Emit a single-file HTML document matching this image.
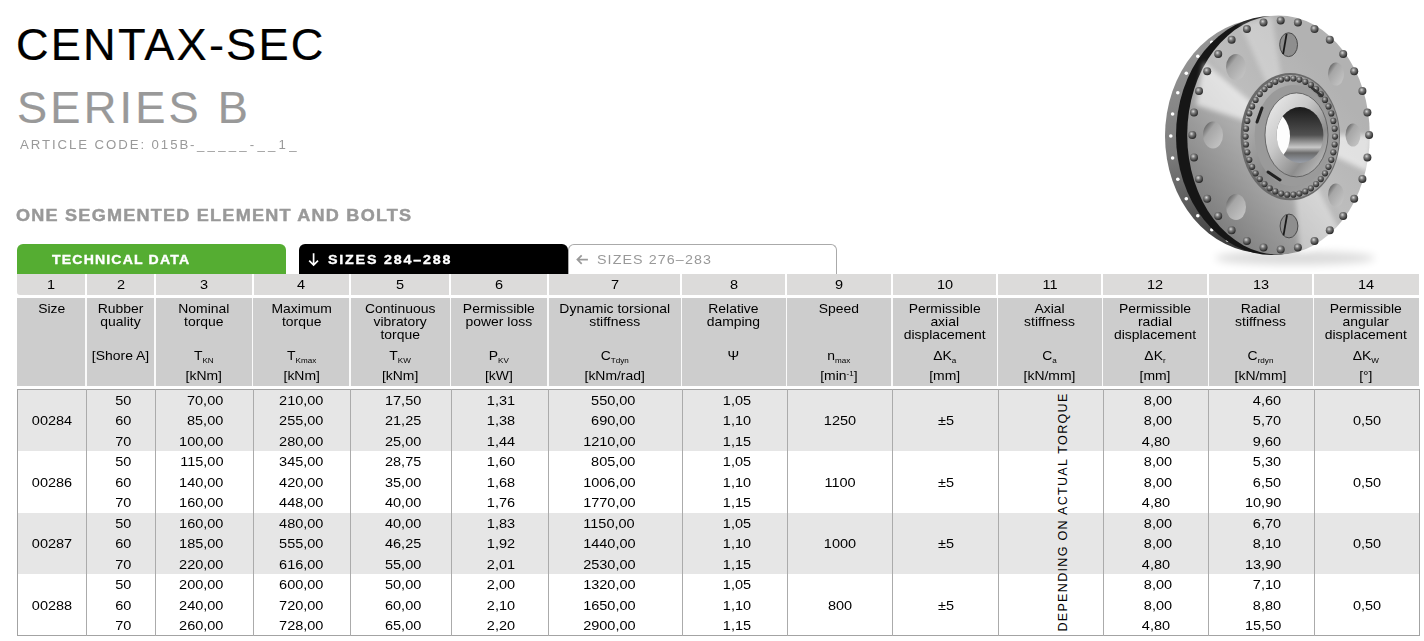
<!DOCTYPE html><html><head><meta charset="utf-8"><style>
*{margin:0;padding:0;box-sizing:border-box}
html,body{width:1424px;height:641px;overflow:hidden;background:#fff;font-family:"Liberation Sans", sans-serif;color:#000}
.abs{position:absolute;white-space:nowrap}
.t{position:absolute;white-space:nowrap;line-height:1}
.num{font-size:12.9px;letter-spacing:0;transform:scaleX(1.125);transform-origin:50% 50%}
.num.r{transform-origin:100% 50%}
.hd{font-size:12.9px;letter-spacing:0;text-align:center;line-height:12.75px;transform:scaleX(1.08);transform-origin:50% 50%}
sub{font-size:7.5px;vertical-align:baseline;position:relative;top:3px;letter-spacing:0}
</style></head><body>
<div class="t" style="left:16px;top:22px;font-size:45.2px;letter-spacing:2.16px;-webkit-text-stroke:0.2px #000">CENTAX-SEC</div>
<div class="t" style="left:17px;top:85.1px;font-size:45.2px;letter-spacing:3.2px;color:#999;-webkit-text-stroke:0.2px #999">SERIES B</div>
<div class="t" style="left:19.5px;top:139px;font-size:12px;letter-spacing:1.75px;color:#999;transform:scaleX(1.1);transform-origin:0 0">ARTICLE CODE: 015B-</div>
<div class="t" style="left:197px;top:139px;font-size:12px;letter-spacing:2.93px;color:#999;transform:scaleX(1.1);transform-origin:0 0">_____-__1_</div>
<div class="t" style="left:15.9px;top:207px;font-size:16.5px;font-weight:bold;letter-spacing:1.11px;color:#999;-webkit-text-stroke:0.45px #999;transform:scaleX(1.096);transform-origin:0 0">ONE SEGMENTED ELEMENT AND BOLTS</div>
<div class="abs" style="left:17px;top:244px;width:268.5px;height:30px;background:#55ad32;border-radius:6px 6px 0 0"></div>
<div class="t" style="left:51.5px;top:254px;font-size:12.7px;font-weight:bold;letter-spacing:1.05px;color:#fff;-webkit-text-stroke:0.35px #fff;transform:scaleX(1.109);transform-origin:0 0">TECHNICAL DATA</div>
<div class="abs" style="left:299px;top:244px;width:268.5px;height:30px;background:#000;border-radius:6px 6px 0 0"></div>
<svg class="abs" style="left:300px;top:246px" width="30" height="26"><path d="M13.6 7.3V18.8M9.2 14.6L13.6 19L18 14.6" stroke="#fff" stroke-width="1.7" fill="none"/></svg><div class="t" style="left:328px;top:253px;font-size:13px;font-weight:bold;letter-spacing:1.63px;color:#fff;-webkit-text-stroke:0.35px #fff;transform:scaleX(1.1);transform-origin:0 0">SIZES 284&#8211;288</div>
<div class="abs" style="left:567.5px;top:244px;width:269px;height:31px;border:1px solid #aaa;border-bottom:none;border-radius:6px 6px 0 0;background:#fff"></div>
<svg class="abs" style="left:570px;top:246px" width="30" height="26"><path d="M17.9 13.6H7.2M11.7 9.3L7.4 13.6L11.7 17.9" stroke="#999" stroke-width="1.7" fill="none"/></svg><div class="t" style="left:597px;top:253px;font-size:13px;letter-spacing:0.98px;color:#999;transform:scaleX(1.1);transform-origin:0 0">SIZES 276&#8211;283</div>
<div class="abs" style="left:16.5px;top:273.8px;width:1402.5px;height:20.9px;background:#dcdbda;border-radius:0 0 0 3px"></div>
<div class="abs" style="left:16.5px;top:298.3px;width:1402.5px;height:87.7px;background:#cdcdcd"></div>
<div class="abs" style="left:85px;top:273.8px;width:2px;height:20.9px;background:#fff"></div>
<div class="abs" style="left:85.4px;top:298.3px;width:1.2px;height:87.7px;background:#fafafa"></div>
<div class="abs" style="left:154px;top:273.8px;width:2px;height:20.9px;background:#fff"></div>
<div class="abs" style="left:154.4px;top:298.3px;width:1.2px;height:87.7px;background:#fafafa"></div>
<div class="abs" style="left:251.6px;top:273.8px;width:2px;height:20.9px;background:#fff"></div>
<div class="abs" style="left:252.0px;top:298.3px;width:1.2px;height:87.7px;background:#fafafa"></div>
<div class="abs" style="left:349px;top:273.8px;width:2px;height:20.9px;background:#fff"></div>
<div class="abs" style="left:349.4px;top:298.3px;width:1.2px;height:87.7px;background:#fafafa"></div>
<div class="abs" style="left:449.3px;top:273.8px;width:2px;height:20.9px;background:#fff"></div>
<div class="abs" style="left:449.7px;top:298.3px;width:1.2px;height:87.7px;background:#fafafa"></div>
<div class="abs" style="left:547px;top:273.8px;width:2px;height:20.9px;background:#fff"></div>
<div class="abs" style="left:547.4px;top:298.3px;width:1.2px;height:87.7px;background:#fafafa"></div>
<div class="abs" style="left:680.4px;top:273.8px;width:2px;height:20.9px;background:#fff"></div>
<div class="abs" style="left:680.8px;top:298.3px;width:1.2px;height:87.7px;background:#fafafa"></div>
<div class="abs" style="left:785.2px;top:273.8px;width:2px;height:20.9px;background:#fff"></div>
<div class="abs" style="left:785.6px;top:298.3px;width:1.2px;height:87.7px;background:#fafafa"></div>
<div class="abs" style="left:891px;top:273.8px;width:2px;height:20.9px;background:#fff"></div>
<div class="abs" style="left:891.4px;top:298.3px;width:1.2px;height:87.7px;background:#fafafa"></div>
<div class="abs" style="left:996.4px;top:273.8px;width:2px;height:20.9px;background:#fff"></div>
<div class="abs" style="left:996.8px;top:298.3px;width:1.2px;height:87.7px;background:#fafafa"></div>
<div class="abs" style="left:1101.4px;top:273.8px;width:2px;height:20.9px;background:#fff"></div>
<div class="abs" style="left:1101.8000000000002px;top:298.3px;width:1.2px;height:87.7px;background:#fafafa"></div>
<div class="abs" style="left:1207.4px;top:273.8px;width:2px;height:20.9px;background:#fff"></div>
<div class="abs" style="left:1207.8000000000002px;top:298.3px;width:1.2px;height:87.7px;background:#fafafa"></div>
<div class="abs" style="left:1312.4px;top:273.8px;width:2px;height:20.9px;background:#fff"></div>
<div class="abs" style="left:1312.8000000000002px;top:298.3px;width:1.2px;height:87.7px;background:#fafafa"></div>
<div class="t num" style="left:11.25px;width:80px;text-align:center;top:279px">1</div>
<div class="t num" style="left:80.5px;width:80px;text-align:center;top:279px">2</div>
<div class="t num" style="left:163.8px;width:80px;text-align:center;top:279px">3</div>
<div class="t num" style="left:261.3px;width:80px;text-align:center;top:279px">4</div>
<div class="t num" style="left:360.15px;width:80px;text-align:center;top:279px">5</div>
<div class="t num" style="left:459.15px;width:80px;text-align:center;top:279px">6</div>
<div class="t num" style="left:574.7px;width:80px;text-align:center;top:279px">7</div>
<div class="t num" style="left:693.8px;width:80px;text-align:center;top:279px">8</div>
<div class="t num" style="left:799.1px;width:80px;text-align:center;top:279px">9</div>
<div class="t num" style="left:904.7px;width:80px;text-align:center;top:279px">10</div>
<div class="t num" style="left:1009.9000000000001px;width:80px;text-align:center;top:279px">11</div>
<div class="t num" style="left:1115.4px;width:80px;text-align:center;top:279px">12</div>
<div class="t num" style="left:1220.9px;width:80px;text-align:center;top:279px">13</div>
<div class="t num" style="left:1326.2px;width:80px;text-align:center;top:279px">14</div>
<div class="abs hd" style="left:16.5px;width:69.5px;top:303px">Size</div>
<div class="abs hd" style="left:86px;width:69px;top:303px">Rubber<br>quality</div>
<div class="abs hd" style="left:86px;width:69px;top:350px">[Shore A]</div>
<div class="abs hd" style="left:155px;width:97.6px;top:303px">Nominal<br>torque</div>
<div class="abs hd" style="left:155px;width:97.6px;top:350px">T<sub>KN</sub></div>
<div class="abs hd" style="left:155px;width:97.6px;top:370px">[kNm]</div>
<div class="abs hd" style="left:252.6px;width:97.4px;top:303px">Maximum<br>torque</div>
<div class="abs hd" style="left:252.6px;width:97.4px;top:350px">T<sub>Kmax</sub></div>
<div class="abs hd" style="left:252.6px;width:97.4px;top:370px">[kNm]</div>
<div class="abs hd" style="left:350px;width:100.30000000000001px;top:303px">Continuous<br>vibratory<br>torque</div>
<div class="abs hd" style="left:350px;width:100.30000000000001px;top:350px">T<sub>KW</sub></div>
<div class="abs hd" style="left:350px;width:100.30000000000001px;top:370px">[kNm]</div>
<div class="abs hd" style="left:450.3px;width:97.69999999999999px;top:303px">Permissible<br>power loss</div>
<div class="abs hd" style="left:450.3px;width:97.69999999999999px;top:350px">P<sub>KV</sub></div>
<div class="abs hd" style="left:450.3px;width:97.69999999999999px;top:370px">[kW]</div>
<div class="abs hd" style="left:548px;width:133.39999999999998px;top:303px">Dynamic torsional<br>stiffness</div>
<div class="abs hd" style="left:548px;width:133.39999999999998px;top:350px">C<sub>Tdyn</sub></div>
<div class="abs hd" style="left:548px;width:133.39999999999998px;top:370px">[kNm/rad]</div>
<div class="abs hd" style="left:681.4px;width:104.80000000000007px;top:303px">Relative<br>damping</div>
<div class="abs hd" style="left:681.4px;width:104.80000000000007px;top:350px">&#936;</div>
<div class="abs hd" style="left:786.2px;width:105.79999999999995px;top:303px">Speed</div>
<div class="abs hd" style="left:786.2px;width:105.79999999999995px;top:350px">n<sub>max</sub></div>
<div class="abs hd" style="left:786.2px;width:105.79999999999995px;top:370px">[min<span style='font-size:7.5px;position:relative;top:-4px;letter-spacing:0'>-1</span>]</div>
<div class="abs hd" style="left:892px;width:105.39999999999998px;top:303px">Permissible<br>axial<br>displacement</div>
<div class="abs hd" style="left:892px;width:105.39999999999998px;top:350px">&#916;K<sub>a</sub></div>
<div class="abs hd" style="left:892px;width:105.39999999999998px;top:370px">[mm]</div>
<div class="abs hd" style="left:997.4px;width:105.00000000000011px;top:303px">Axial<br>stiffness</div>
<div class="abs hd" style="left:997.4px;width:105.00000000000011px;top:350px">C<sub>a</sub></div>
<div class="abs hd" style="left:997.4px;width:105.00000000000011px;top:370px">[kN/mm]</div>
<div class="abs hd" style="left:1102.4px;width:106.0px;top:303px">Permissible<br>radial<br>displacement</div>
<div class="abs hd" style="left:1102.4px;width:106.0px;top:350px">&#916;K<sub>r</sub></div>
<div class="abs hd" style="left:1102.4px;width:106.0px;top:370px">[mm]</div>
<div class="abs hd" style="left:1208.4px;width:105.0px;top:303px">Radial<br>stiffness</div>
<div class="abs hd" style="left:1208.4px;width:105.0px;top:350px">C<sub>rdyn</sub></div>
<div class="abs hd" style="left:1208.4px;width:105.0px;top:370px">[kN/mm]</div>
<div class="abs hd" style="left:1313.4px;width:105.59999999999991px;top:303px">Permissible<br>angular<br>displacement</div>
<div class="abs hd" style="left:1313.4px;width:105.59999999999991px;top:350px">&#916;K<sub>W</sub></div>
<div class="abs hd" style="left:1313.4px;width:105.59999999999991px;top:370px">[&#176;]</div>
<div class="abs" style="left:16.5px;top:389.8px;width:1402.5px;height:61.099999999999966px;background:#e6e6e6"></div>
<div class="abs" style="left:16.5px;top:512.9px;width:1402.5px;height:61.10000000000002px;background:#e6e6e6"></div>
<div class="abs" style="left:16.5px;top:388.8px;width:1403.0px;height:246.8px;border:1px solid #a3a3a3"></div>
<div class="abs" style="left:85.9px;top:388.8px;width:1px;height:246.8px;background:#ababab"></div>
<div class="abs" style="left:155.0px;top:388.8px;width:1px;height:246.8px;background:#ababab"></div>
<div class="abs" style="left:252.7px;top:388.8px;width:1px;height:246.8px;background:#ababab"></div>
<div class="abs" style="left:350.2px;top:388.8px;width:1px;height:246.8px;background:#ababab"></div>
<div class="abs" style="left:450.8px;top:388.8px;width:1px;height:246.8px;background:#ababab"></div>
<div class="abs" style="left:548.1px;top:388.8px;width:1px;height:246.8px;background:#ababab"></div>
<div class="abs" style="left:681.5px;top:388.8px;width:1px;height:246.8px;background:#ababab"></div>
<div class="abs" style="left:786.9px;top:388.8px;width:1px;height:246.8px;background:#ababab"></div>
<div class="abs" style="left:891.9px;top:388.8px;width:1px;height:246.8px;background:#ababab"></div>
<div class="abs" style="left:997.6px;top:388.8px;width:1px;height:246.8px;background:#ababab"></div>
<div class="abs" style="left:1102.8px;top:388.8px;width:1px;height:246.8px;background:#ababab"></div>
<div class="abs" style="left:1208.3px;top:388.8px;width:1px;height:246.8px;background:#ababab"></div>
<div class="abs" style="left:1313.6px;top:388.8px;width:1px;height:246.8px;background:#ababab"></div>
<div class="t num" style="left:1.6000000000000014px;width:100px;top:415.1px;text-align:center">00284</div>
<div class="t num" style="left:789.9px;width:100px;top:415.1px;text-align:center">1250</div>
<div class="t num" style="left:895.5px;width:100px;top:415.1px;text-align:center">&#177;5</div>
<div class="t num" style="left:1316.7px;width:100px;top:415.1px;text-align:center">0,50</div>
<div class="t num r" style="right:1293px;top:395.40000000000003px;text-align:right">50</div>
<div class="t num r" style="right:1201px;top:395.40000000000003px;text-align:right">70,00</div>
<div class="t num r" style="right:1100.3px;top:395.40000000000003px;text-align:right">210,00</div>
<div class="t num r" style="right:1003.2px;top:395.40000000000003px;text-align:right">17,50</div>
<div class="t num r" style="right:908.6px;top:395.40000000000003px;text-align:right">1,31</div>
<div class="t num r" style="right:788.9px;top:395.40000000000003px;text-align:right">550,00</div>
<div class="t num r" style="right:673.2px;top:395.40000000000003px;text-align:right">1,05</div>
<div class="t num r" style="right:251.9000000000001px;top:395.40000000000003px;text-align:right">8,00</div>
<div class="t num r" style="right:142.5999999999999px;top:395.40000000000003px;text-align:right">4,60</div>
<div class="t num r" style="right:1293px;top:415.1px;text-align:right">60</div>
<div class="t num r" style="right:1201px;top:415.1px;text-align:right">85,00</div>
<div class="t num r" style="right:1100.3px;top:415.1px;text-align:right">255,00</div>
<div class="t num r" style="right:1003.2px;top:415.1px;text-align:right">21,25</div>
<div class="t num r" style="right:908.6px;top:415.1px;text-align:right">1,38</div>
<div class="t num r" style="right:788.9px;top:415.1px;text-align:right">690,00</div>
<div class="t num r" style="right:673.2px;top:415.1px;text-align:right">1,10</div>
<div class="t num r" style="right:251.9000000000001px;top:415.1px;text-align:right">8,00</div>
<div class="t num r" style="right:142.5999999999999px;top:415.1px;text-align:right">5,70</div>
<div class="t num r" style="right:1293px;top:436.2px;text-align:right">70</div>
<div class="t num r" style="right:1201px;top:436.2px;text-align:right">100,00</div>
<div class="t num r" style="right:1100.3px;top:436.2px;text-align:right">280,00</div>
<div class="t num r" style="right:1003.2px;top:436.2px;text-align:right">25,00</div>
<div class="t num r" style="right:908.6px;top:436.2px;text-align:right">1,44</div>
<div class="t num r" style="right:788.9px;top:436.2px;text-align:right">1210,00</div>
<div class="t num r" style="right:673.2px;top:436.2px;text-align:right">1,15</div>
<div class="t num r" style="right:253.70000000000005px;top:436.2px;text-align:right">4,80</div>
<div class="t num r" style="right:142.5999999999999px;top:436.2px;text-align:right">9,60</div>
<div class="t num" style="left:1.6000000000000014px;width:100px;top:477.2px;text-align:center">00286</div>
<div class="t num" style="left:789.9px;width:100px;top:477.2px;text-align:center">1100</div>
<div class="t num" style="left:895.5px;width:100px;top:477.2px;text-align:center">&#177;5</div>
<div class="t num" style="left:1316.7px;width:100px;top:477.2px;text-align:center">0,50</div>
<div class="t num r" style="right:1293px;top:456.3px;text-align:right">50</div>
<div class="t num r" style="right:1201px;top:456.3px;text-align:right">115,00</div>
<div class="t num r" style="right:1100.3px;top:456.3px;text-align:right">345,00</div>
<div class="t num r" style="right:1003.2px;top:456.3px;text-align:right">28,75</div>
<div class="t num r" style="right:908.6px;top:456.3px;text-align:right">1,60</div>
<div class="t num r" style="right:788.9px;top:456.3px;text-align:right">805,00</div>
<div class="t num r" style="right:673.2px;top:456.3px;text-align:right">1,05</div>
<div class="t num r" style="right:251.9000000000001px;top:456.3px;text-align:right">8,00</div>
<div class="t num r" style="right:142.5999999999999px;top:456.3px;text-align:right">5,30</div>
<div class="t num r" style="right:1293px;top:477.2px;text-align:right">60</div>
<div class="t num r" style="right:1201px;top:477.2px;text-align:right">140,00</div>
<div class="t num r" style="right:1100.3px;top:477.2px;text-align:right">420,00</div>
<div class="t num r" style="right:1003.2px;top:477.2px;text-align:right">35,00</div>
<div class="t num r" style="right:908.6px;top:477.2px;text-align:right">1,68</div>
<div class="t num r" style="right:788.9px;top:477.2px;text-align:right">1006,00</div>
<div class="t num r" style="right:673.2px;top:477.2px;text-align:right">1,10</div>
<div class="t num r" style="right:251.9000000000001px;top:477.2px;text-align:right">8,00</div>
<div class="t num r" style="right:142.5999999999999px;top:477.2px;text-align:right">6,50</div>
<div class="t num r" style="right:1293px;top:496.8px;text-align:right">70</div>
<div class="t num r" style="right:1201px;top:496.8px;text-align:right">160,00</div>
<div class="t num r" style="right:1100.3px;top:496.8px;text-align:right">448,00</div>
<div class="t num r" style="right:1003.2px;top:496.8px;text-align:right">40,00</div>
<div class="t num r" style="right:908.6px;top:496.8px;text-align:right">1,76</div>
<div class="t num r" style="right:788.9px;top:496.8px;text-align:right">1770,00</div>
<div class="t num r" style="right:673.2px;top:496.8px;text-align:right">1,15</div>
<div class="t num r" style="right:253.70000000000005px;top:496.8px;text-align:right">4,80</div>
<div class="t num r" style="right:142.5999999999999px;top:496.8px;text-align:right">10,90</div>
<div class="t num" style="left:1.6000000000000014px;width:100px;top:538.3px;text-align:center">00287</div>
<div class="t num" style="left:789.9px;width:100px;top:538.3px;text-align:center">1000</div>
<div class="t num" style="left:895.5px;width:100px;top:538.3px;text-align:center">&#177;5</div>
<div class="t num" style="left:1316.7px;width:100px;top:538.3px;text-align:center">0,50</div>
<div class="t num r" style="right:1293px;top:517.6999999999999px;text-align:right">50</div>
<div class="t num r" style="right:1201px;top:517.6999999999999px;text-align:right">160,00</div>
<div class="t num r" style="right:1100.3px;top:517.6999999999999px;text-align:right">480,00</div>
<div class="t num r" style="right:1003.2px;top:517.6999999999999px;text-align:right">40,00</div>
<div class="t num r" style="right:908.6px;top:517.6999999999999px;text-align:right">1,83</div>
<div class="t num r" style="right:788.9px;top:517.6999999999999px;text-align:right">1150,00</div>
<div class="t num r" style="right:673.2px;top:517.6999999999999px;text-align:right">1,05</div>
<div class="t num r" style="right:251.9000000000001px;top:517.6999999999999px;text-align:right">8,00</div>
<div class="t num r" style="right:142.5999999999999px;top:517.6999999999999px;text-align:right">6,70</div>
<div class="t num r" style="right:1293px;top:538.3px;text-align:right">60</div>
<div class="t num r" style="right:1201px;top:538.3px;text-align:right">185,00</div>
<div class="t num r" style="right:1100.3px;top:538.3px;text-align:right">555,00</div>
<div class="t num r" style="right:1003.2px;top:538.3px;text-align:right">46,25</div>
<div class="t num r" style="right:908.6px;top:538.3px;text-align:right">1,92</div>
<div class="t num r" style="right:788.9px;top:538.3px;text-align:right">1440,00</div>
<div class="t num r" style="right:673.2px;top:538.3px;text-align:right">1,10</div>
<div class="t num r" style="right:251.9000000000001px;top:538.3px;text-align:right">8,00</div>
<div class="t num r" style="right:142.5999999999999px;top:538.3px;text-align:right">8,10</div>
<div class="t num r" style="right:1293px;top:559.1999999999999px;text-align:right">70</div>
<div class="t num r" style="right:1201px;top:559.1999999999999px;text-align:right">220,00</div>
<div class="t num r" style="right:1100.3px;top:559.1999999999999px;text-align:right">616,00</div>
<div class="t num r" style="right:1003.2px;top:559.1999999999999px;text-align:right">55,00</div>
<div class="t num r" style="right:908.6px;top:559.1999999999999px;text-align:right">2,01</div>
<div class="t num r" style="right:788.9px;top:559.1999999999999px;text-align:right">2530,00</div>
<div class="t num r" style="right:673.2px;top:559.1999999999999px;text-align:right">1,15</div>
<div class="t num r" style="right:253.70000000000005px;top:559.1999999999999px;text-align:right">4,80</div>
<div class="t num r" style="right:142.5999999999999px;top:559.1999999999999px;text-align:right">13,90</div>
<div class="t num" style="left:1.6000000000000014px;width:100px;top:599.6999999999999px;text-align:center">00288</div>
<div class="t num" style="left:789.9px;width:100px;top:599.6999999999999px;text-align:center">800</div>
<div class="t num" style="left:895.5px;width:100px;top:599.6999999999999px;text-align:center">&#177;5</div>
<div class="t num" style="left:1316.7px;width:100px;top:599.6999999999999px;text-align:center">0,50</div>
<div class="t num r" style="right:1293px;top:579.4px;text-align:right">50</div>
<div class="t num r" style="right:1201px;top:579.4px;text-align:right">200,00</div>
<div class="t num r" style="right:1100.3px;top:579.4px;text-align:right">600,00</div>
<div class="t num r" style="right:1003.2px;top:579.4px;text-align:right">50,00</div>
<div class="t num r" style="right:908.6px;top:579.4px;text-align:right">2,00</div>
<div class="t num r" style="right:788.9px;top:579.4px;text-align:right">1320,00</div>
<div class="t num r" style="right:673.2px;top:579.4px;text-align:right">1,05</div>
<div class="t num r" style="right:251.9000000000001px;top:579.4px;text-align:right">8,00</div>
<div class="t num r" style="right:142.5999999999999px;top:579.4px;text-align:right">7,10</div>
<div class="t num r" style="right:1293px;top:599.6999999999999px;text-align:right">60</div>
<div class="t num r" style="right:1201px;top:599.6999999999999px;text-align:right">240,00</div>
<div class="t num r" style="right:1100.3px;top:599.6999999999999px;text-align:right">720,00</div>
<div class="t num r" style="right:1003.2px;top:599.6999999999999px;text-align:right">60,00</div>
<div class="t num r" style="right:908.6px;top:599.6999999999999px;text-align:right">2,10</div>
<div class="t num r" style="right:788.9px;top:599.6999999999999px;text-align:right">1650,00</div>
<div class="t num r" style="right:673.2px;top:599.6999999999999px;text-align:right">1,10</div>
<div class="t num r" style="right:251.9000000000001px;top:599.6999999999999px;text-align:right">8,00</div>
<div class="t num r" style="right:142.5999999999999px;top:599.6999999999999px;text-align:right">8,80</div>
<div class="t num r" style="right:1293px;top:619.5px;text-align:right">70</div>
<div class="t num r" style="right:1201px;top:619.5px;text-align:right">260,00</div>
<div class="t num r" style="right:1100.3px;top:619.5px;text-align:right">728,00</div>
<div class="t num r" style="right:1003.2px;top:619.5px;text-align:right">65,00</div>
<div class="t num r" style="right:908.6px;top:619.5px;text-align:right">2,20</div>
<div class="t num r" style="right:788.9px;top:619.5px;text-align:right">2900,00</div>
<div class="t num r" style="right:673.2px;top:619.5px;text-align:right">1,15</div>
<div class="t num r" style="right:253.70000000000005px;top:619.5px;text-align:right">4,80</div>
<div class="t num r" style="right:142.5999999999999px;top:619.5px;text-align:right">15,50</div>
<div class="t" style="left:1063px;top:511.6px;font-size:13.5px;letter-spacing:1.39px;transform:translate(-50%,-50%) rotate(-90deg) scaleX(0.93);">DEPENDING ON ACTUAL TORQUE</div>
<svg class="abs" style="left:1140px;top:0px" width="284" height="275" viewBox="1140 0 284 275">
<defs>
<filter id="blur4" x="-50%" y="-50%" width="200%" height="200%"><feGaussianBlur stdDeviation="4"/></filter>
<filter id="blur2" x="-50%" y="-50%" width="200%" height="200%"><feGaussianBlur stdDeviation="2.5"/></filter>
<linearGradient id="face" x1="0.1" y1="0.85" x2="0.7" y2="0.2">
 <stop offset="0" stop-color="#7c7c7c"/>
 <stop offset="0.35" stop-color="#a2a2a2"/>
 <stop offset="0.6" stop-color="#bdbdbd"/>
 <stop offset="1" stop-color="#b2b2b2"/>
</linearGradient>
<linearGradient id="back" x1="0.3" y1="0" x2="0.5" y2="1">
 <stop offset="0" stop-color="#9a9a9a"/>
 <stop offset="0.5" stop-color="#7c7c7c"/>
 <stop offset="1" stop-color="#343434"/>
</linearGradient>
<linearGradient id="hubface" x1="0" y1="0" x2="1" y2="1">
 <stop offset="0" stop-color="#f2f2f2"/>
 <stop offset="0.4" stop-color="#c8c8c8"/>
 <stop offset="0.7" stop-color="#8e8e8e"/>
 <stop offset="1" stop-color="#d6d6d6"/>
</linearGradient>
<linearGradient id="ring" x1="0" y1="0" x2="1" y2="1">
 <stop offset="0" stop-color="#c8c8c8"/>
 <stop offset="0.5" stop-color="#8c8c8c"/>
 <stop offset="1" stop-color="#a8a8a8"/>
</linearGradient>
<linearGradient id="bore" x1="0" y1="0" x2="0" y2="1">
 <stop offset="0" stop-color="#1a1a1a"/>
 <stop offset="0.5" stop-color="#505050"/>
 <stop offset="0.72" stop-color="#c8c8c8"/>
 <stop offset="0.82" stop-color="#6a6a6a"/>
 <stop offset="1" stop-color="#9aa0aa"/>
</linearGradient>
<radialGradient id="bolt" cx="0.4" cy="0.35" r="0.65">
 <stop offset="0" stop-color="#d8d8d8"/>
 <stop offset="0.4" stop-color="#7a7a7a"/>
 <stop offset="1" stop-color="#262626"/>
</radialGradient>
<radialGradient id="bolt2" cx="0.4" cy="0.35" r="0.65">
 <stop offset="0" stop-color="#c8c8c8"/>
 <stop offset="0.45" stop-color="#6a6a6a"/>
 <stop offset="1" stop-color="#222"/>
</radialGradient>
<linearGradient id="hole" x1="0.1" y1="0.1" x2="0.9" y2="0.9">
 <stop offset="0" stop-color="#5e5e5e"/>
 <stop offset="0.3" stop-color="#a6a6a6"/>
 <stop offset="1" stop-color="#c4c4c4"/>
</linearGradient>
</defs>
<ellipse cx="1295" cy="258" rx="80" ry="7" fill="#000" opacity="0.14" filter="url(#blur4)"/>
<ellipse cx="1263" cy="136" rx="98" ry="117" fill="url(#back)"/>
<circle cx="1227.7" cy="240.2" r="1.8" fill="#fff"/>
<circle cx="1211.8" cy="229.8" r="1.8" fill="#fff"/>
<circle cx="1197.8" cy="215.8" r="1.8" fill="#fff"/>
<circle cx="1186.3" cy="198.7" r="1.8" fill="#fff"/>
<circle cx="1177.8" cy="179.2" r="1.8" fill="#fff"/>
<circle cx="1172.6" cy="158.0" r="1.8" fill="#fff"/>
<circle cx="1170.8" cy="136.0" r="1.8" fill="#fff"/>
<circle cx="1172.6" cy="114.0" r="1.8" fill="#fff"/>
<circle cx="1177.8" cy="92.8" r="1.8" fill="#fff"/>
<circle cx="1186.3" cy="73.3" r="1.8" fill="#fff"/>
<circle cx="1197.8" cy="56.2" r="1.8" fill="#fff"/>
<circle cx="1211.8" cy="42.2" r="1.8" fill="#fff"/>
<circle cx="1227.7" cy="31.8" r="1.8" fill="#fff"/>
<ellipse cx="1272" cy="135.5" rx="96" ry="119.5" fill="#161616"/>
<ellipse cx="1278.5" cy="135" rx="91.3" ry="119.5" fill="url(#face)"/>
<g filter="url(#blur2)" opacity="0.6">
<path d="M1290 135 L1196 105 L1204 62 Z" fill="#fff"/>
<path d="M1290 135 L1372 135 L1368 172 Z" fill="#fff"/>
<path d="M1290 135 L1300 254 L1345 240 Z" fill="#fff" opacity="0.7"/>
<path d="M1290 135 L1240 24 L1272 16 Z" fill="#fff" opacity="0.5"/>
</g>
<ellipse cx="1288.6" cy="44.7" rx="8.9" ry="11.9" fill="#8e8e8e" stroke="#4a4a4a" stroke-width="1"/>
<path d="M1286.6 33.800000000000004 L1283.1 54.1" stroke="#1a1a1a" stroke-width="1.8"/>
<ellipse cx="1336" cy="74" rx="8" ry="11.5" fill="url(#hole)"/>
<ellipse cx="1353" cy="135" rx="7.5" ry="11.5" fill="url(#hole)"/>
<ellipse cx="1336" cy="195" rx="8" ry="11.5" fill="url(#hole)"/>
<ellipse cx="1289" cy="226" rx="8.9" ry="11.9" fill="#8e8e8e" stroke="#4a4a4a" stroke-width="1"/>
<path d="M1287 215.1 L1283.5 235.4" stroke="#1a1a1a" stroke-width="1.8"/>
<ellipse cx="1236" cy="207" rx="10" ry="13" fill="url(#hole)"/>
<ellipse cx="1213" cy="135" rx="10" ry="13.5" fill="url(#hole)"/>
<ellipse cx="1236" cy="67" rx="10" ry="13" fill="url(#hole)"/>
<circle cx="1280.7" cy="20.4" r="4" fill="url(#bolt)"/>
<circle cx="1297.9" cy="22.6" r="4" fill="url(#bolt)"/>
<circle cx="1314.5" cy="29.1" r="4" fill="url(#bolt)"/>
<circle cx="1329.8" cy="39.7" r="4" fill="url(#bolt)"/>
<circle cx="1343.2" cy="54.0" r="4" fill="url(#bolt)"/>
<circle cx="1354.2" cy="71.3" r="4" fill="url(#bolt)"/>
<circle cx="1362.4" cy="91.1" r="4" fill="url(#bolt)"/>
<circle cx="1367.4" cy="112.6" r="4" fill="url(#bolt)"/>
<circle cx="1369.1" cy="135.0" r="4" fill="url(#bolt)"/>
<circle cx="1367.4" cy="157.4" r="4" fill="url(#bolt)"/>
<circle cx="1362.4" cy="178.9" r="4" fill="url(#bolt)"/>
<circle cx="1354.2" cy="198.7" r="4" fill="url(#bolt)"/>
<circle cx="1343.2" cy="216.0" r="4" fill="url(#bolt)"/>
<circle cx="1329.8" cy="230.3" r="4" fill="url(#bolt)"/>
<circle cx="1314.5" cy="240.9" r="4" fill="url(#bolt)"/>
<circle cx="1297.9" cy="247.4" r="4" fill="url(#bolt)"/>
<circle cx="1280.7" cy="249.6" r="4" fill="url(#bolt)"/>
<circle cx="1263.5" cy="247.4" r="4" fill="url(#bolt)"/>
<circle cx="1246.9" cy="240.9" r="4" fill="url(#bolt)"/>
<circle cx="1231.6" cy="230.3" r="4" fill="url(#bolt)"/>
<circle cx="1218.2" cy="216.0" r="4" fill="url(#bolt)"/>
<circle cx="1207.2" cy="198.7" r="4" fill="url(#bolt)"/>
<circle cx="1199.0" cy="178.9" r="4" fill="url(#bolt)"/>
<circle cx="1194.0" cy="157.4" r="4" fill="url(#bolt)"/>
<circle cx="1192.3" cy="135.0" r="4" fill="url(#bolt)"/>
<circle cx="1194.0" cy="112.6" r="4" fill="url(#bolt)"/>
<circle cx="1199.0" cy="91.1" r="4" fill="url(#bolt)"/>
<circle cx="1207.2" cy="71.3" r="4" fill="url(#bolt)"/>
<circle cx="1218.2" cy="54.0" r="4" fill="url(#bolt)"/>
<circle cx="1231.6" cy="39.7" r="4" fill="url(#bolt)"/>
<circle cx="1246.9" cy="29.1" r="4" fill="url(#bolt)"/>
<circle cx="1263.5" cy="22.6" r="4" fill="url(#bolt)"/>
<ellipse cx="1290.3" cy="136.6" rx="49.7" ry="63.7" fill="#6a6a6a"/>
<ellipse cx="1291.3" cy="136.6" rx="47.7" ry="61.7" fill="url(#ring)"/>
<circle cx="1335.0" cy="136.6" r="3.1" fill="url(#bolt2)"/>
<circle cx="1334.6" cy="144.5" r="3.1" fill="url(#bolt2)"/>
<circle cx="1333.3" cy="152.3" r="3.1" fill="url(#bolt2)"/>
<circle cx="1331.3" cy="159.8" r="3.1" fill="url(#bolt2)"/>
<circle cx="1328.5" cy="166.8" r="3.1" fill="url(#bolt2)"/>
<circle cx="1325.0" cy="173.3" r="3.1" fill="url(#bolt2)"/>
<circle cx="1320.8" cy="179.1" r="3.1" fill="url(#bolt2)"/>
<circle cx="1316.1" cy="184.1" r="3.1" fill="url(#bolt2)"/>
<circle cx="1310.9" cy="188.3" r="3.1" fill="url(#bolt2)"/>
<circle cx="1305.3" cy="191.4" r="3.1" fill="url(#bolt2)"/>
<circle cx="1299.4" cy="193.6" r="3.1" fill="url(#bolt2)"/>
<circle cx="1293.4" cy="194.7" r="3.1" fill="url(#bolt2)"/>
<circle cx="1287.2" cy="194.7" r="3.1" fill="url(#bolt2)"/>
<circle cx="1281.2" cy="193.6" r="3.1" fill="url(#bolt2)"/>
<circle cx="1275.3" cy="191.4" r="3.1" fill="url(#bolt2)"/>
<circle cx="1269.7" cy="188.3" r="3.1" fill="url(#bolt2)"/>
<circle cx="1264.5" cy="184.1" r="3.1" fill="url(#bolt2)"/>
<circle cx="1259.8" cy="179.1" r="3.1" fill="url(#bolt2)"/>
<circle cx="1255.6" cy="173.3" r="3.1" fill="url(#bolt2)"/>
<circle cx="1252.1" cy="166.8" r="3.1" fill="url(#bolt2)"/>
<circle cx="1249.3" cy="159.8" r="3.1" fill="url(#bolt2)"/>
<circle cx="1247.3" cy="152.3" r="3.1" fill="url(#bolt2)"/>
<circle cx="1246.0" cy="144.5" r="3.1" fill="url(#bolt2)"/>
<circle cx="1245.6" cy="136.6" r="3.1" fill="url(#bolt2)"/>
<circle cx="1246.0" cy="128.7" r="3.1" fill="url(#bolt2)"/>
<circle cx="1247.3" cy="120.9" r="3.1" fill="url(#bolt2)"/>
<circle cx="1249.3" cy="113.4" r="3.1" fill="url(#bolt2)"/>
<circle cx="1252.1" cy="106.4" r="3.1" fill="url(#bolt2)"/>
<circle cx="1255.6" cy="99.9" r="3.1" fill="url(#bolt2)"/>
<circle cx="1259.8" cy="94.1" r="3.1" fill="url(#bolt2)"/>
<circle cx="1264.5" cy="89.1" r="3.1" fill="url(#bolt2)"/>
<circle cx="1269.7" cy="84.9" r="3.1" fill="url(#bolt2)"/>
<circle cx="1275.3" cy="81.8" r="3.1" fill="url(#bolt2)"/>
<circle cx="1281.2" cy="79.6" r="3.1" fill="url(#bolt2)"/>
<circle cx="1287.2" cy="78.5" r="3.1" fill="url(#bolt2)"/>
<circle cx="1293.4" cy="78.5" r="3.1" fill="url(#bolt2)"/>
<circle cx="1299.4" cy="79.6" r="3.1" fill="url(#bolt2)"/>
<circle cx="1305.3" cy="81.8" r="3.1" fill="url(#bolt2)"/>
<circle cx="1310.9" cy="84.9" r="3.1" fill="url(#bolt2)"/>
<circle cx="1316.1" cy="89.1" r="3.1" fill="url(#bolt2)"/>
<circle cx="1320.8" cy="94.1" r="3.1" fill="url(#bolt2)"/>
<circle cx="1325.0" cy="99.9" r="3.1" fill="url(#bolt2)"/>
<circle cx="1328.5" cy="106.4" r="3.1" fill="url(#bolt2)"/>
<circle cx="1331.3" cy="113.4" r="3.1" fill="url(#bolt2)"/>
<circle cx="1333.3" cy="120.9" r="3.1" fill="url(#bolt2)"/>
<circle cx="1334.6" cy="128.7" r="3.1" fill="url(#bolt2)"/>
<ellipse cx="1293.3" cy="135.6" rx="38.7" ry="50.7" fill="#9a9a9a"/>
<path d="M1262 108 L1257 122" stroke="#222" stroke-width="3" stroke-linecap="round"/>
<path d="M1268 172 L1280 180" stroke="#222" stroke-width="3" stroke-linecap="round"/>
<path d="M1312 88 L1322 96" stroke="#333" stroke-width="2.5" stroke-linecap="round"/>
<ellipse cx="1296.5" cy="134.9" rx="31.5" ry="42" fill="url(#hubface)" stroke="#555" stroke-width="0.8"/>
<ellipse cx="1300" cy="135" rx="23.4" ry="28" fill="url(#bore)"/>
<clipPath id="boreclip"><ellipse cx="1300" cy="135" rx="23.4" ry="28"/></clipPath>
<ellipse cx="1267" cy="136" rx="23" ry="27" fill="#fdfdfd" clip-path="url(#boreclip)"/>
</svg>
</body></html>
